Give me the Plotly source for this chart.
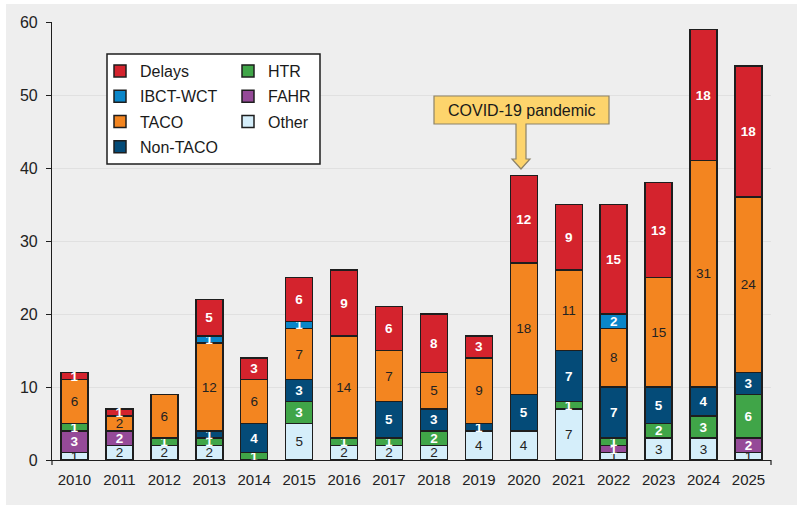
import plotly.graph_objects as go

years = [str(y) for y in range(2010, 2026)]

other    = [1, 2, 2, 2, 0, 5, 2, 2, 2, 4, 4, 7, 1, 3, 3, 1]
fahr     = [3, 2, 0, 0, 0, 0, 0, 0, 0, 0, 0, 0, 1, 0, 0, 2]
htr      = [1, 0, 1, 1, 1, 3, 1, 1, 2, 0, 0, 1, 1, 2, 3, 6]
non_taco = [0, 0, 0, 1, 4, 3, 0, 5, 3, 1, 5, 7, 7, 5, 4, 3]
taco     = [6, 2, 6, 12, 6, 7, 14, 7, 5, 9, 18, 11, 8, 15, 31, 24]
ibct_wct = [0, 0, 0, 1, 0, 1, 0, 0, 0, 0, 0, 0, 2, 0, 0, 0]
delays   = [1, 1, 0, 5, 3, 6, 9, 6, 8, 3, 12, 9, 15, 13, 18, 18]

y_ticks = [0, 10, 20, 30, 40, 50, 60]
annotation_text = "COVID-19 pandemic"

FONT = "Liberation Sans, Arial, sans-serif"

# (name, values, color, text color, bold, legend, rank)
series = [
    ("Other", other, "#d5eefa", "#222222", False, "legend2", 3),
    ("FAHR", fahr, "#954a98", "#ffffff", True, "legend2", 2),
    ("HTR", htr, "#40a548", "#ffffff", True, "legend2", 1),
    ("Non-TACO", non_taco, "#044b78", "#ffffff", True, "legend", 4),
    ("TACO", taco, "#f38520", "#222222", False, "legend", 3),
    ("IBCT-WCT", ibct_wct, "#0a86c9", "#ffffff", True, "legend", 2),
    ("Delays", delays, "#d4232d", "#ffffff", True, "legend", 1),
]

fig = go.Figure()
for name, vals, color, tcolor, bold, leg, rank in series:
    yv = [v if v else None for v in vals]
    fig.add_trace(go.Bar(
        x=years, y=yv, name=name,
        marker=dict(color=color, line=dict(color="#1e1e1e", width=1.5)),
        text=[str(v) if v else "" for v in vals],
        textposition="inside", insidetextanchor="middle", textangle=0,
        constraintext="none",
        insidetextfont=dict(family=FONT, size=13.5, color=tcolor,
                            weight="bold" if bold else "normal"),
        legend=leg, legendrank=rank, legendgroup=name,
        hoverinfo="x+y+name",
    ))

L, R, T, B = 52, 30, 22, 50
W, H = 801, 510
pw, ph = W - L - R, H - T - B

def px(p):
    return (p - L) / pw

def py(p):
    return (H - B - p) / ph

shapes = []
# gray panel background
shapes.append(dict(type="rect", xref="paper", yref="paper",
                   x0=px(6), x1=px(797), y0=py(505), y1=py(4),
                   fillcolor="#eeeeee", line=dict(width=0), layer="below"))
# legend box
shapes.append(dict(type="rect", xref="paper", yref="paper",
                   x0=px(107), x1=px(320), y0=py(164), y1=py(54),
                   fillcolor="#ffffff", line=dict(color="#1e1e1e", width=1.5),
                   layer="above"))
# small end ticks on x axis
for xp in (52, 771):
    shapes.append(dict(type="line", xref="paper", yref="paper",
                       x0=px(xp), x1=px(xp), y0=py(460), y1=py(465),
                       line=dict(color="#1e1e1e", width=1.2)))
# callout box + block arrow
pts = [(434, 96), (609, 96), (609, 124), (526, 124), (526, 159), (530, 159),
       (521, 169), (512, 159), (516, 159), (516, 124), (434, 124)]
path = "M" + " L".join(f"{px(a):.5f},{py(b):.5f}" for a, b in pts) + " Z"
shapes.append(dict(type="path", xref="paper", yref="paper", path=path,
                   fillcolor="#fdd46c", opacity=1, line=dict(color="#8c8268", width=1.2),
                   layer="above"))

fig.update_layout(
    width=W, height=H,
    margin=dict(l=L, r=R, t=T, b=B, pad=0),
    paper_bgcolor="#ffffff", plot_bgcolor="rgba(0,0,0,0)",
    barmode="stack", bargap=0.4,
    font=dict(family=FONT, color="#222222"),
    uniformtext=dict(minsize=13.5, mode="show"),
    shapes=shapes,
    showlegend=True,
    legend=dict(x=px(100), y=py(54), xanchor="left", yanchor="top",
                xref="paper", yref="paper",
                bgcolor="rgba(0,0,0,0)", borderwidth=0,
                traceorder="grouped", tracegroupgap=1.5,
                font=dict(family=FONT, size=16, color="#1a1a1a")),
    legend2=dict(x=px(228), y=py(54), xanchor="left", yanchor="top",
                 xref="paper", yref="paper",
                 bgcolor="rgba(0,0,0,0)", borderwidth=0,
                 traceorder="grouped", tracegroupgap=1.5,
                 font=dict(family=FONT, size=16, color="#1a1a1a")),
    annotations=[dict(xref="paper", yref="paper", x=px(521.5), y=py(110),
                      xanchor="center", yanchor="middle",
                      text=annotation_text, showarrow=False,
                      font=dict(family=FONT, size=16, color="#1a1a1a"))],
)

fig.update_xaxes(type="category", showline=True, linecolor="#1e1e1e", linewidth=1.2,
                 ticks="", showgrid=False, tickfont=dict(size=15, color="#222222"),
                 ticklabelstandoff=6, fixedrange=True)
fig.update_yaxes(range=[0, 60], tickvals=y_ticks, showline=True, linecolor="#1e1e1e",
                 linewidth=1.2, ticks="outside", ticklen=5, tickcolor="#1e1e1e",
                 tickwidth=1.2, showgrid=True, gridcolor="#e0e0e0", gridwidth=1,
                 zeroline=False, tickfont=dict(size=16, color="#222222"),
                 ticklabelstandoff=5, fixedrange=True)

fig.write_html("out.html")
